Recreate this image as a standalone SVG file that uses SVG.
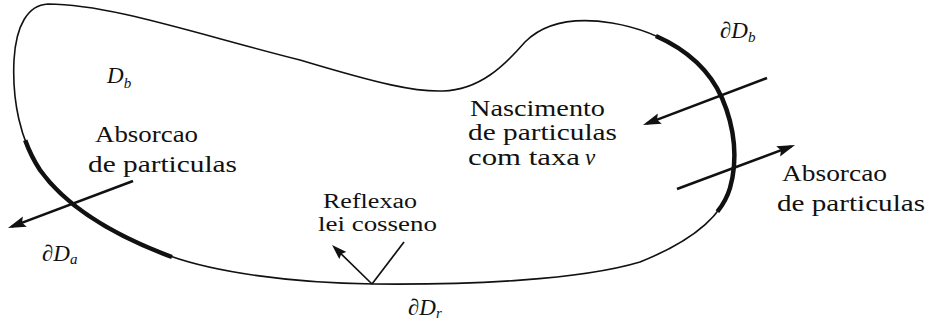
<svg xmlns="http://www.w3.org/2000/svg" width="930" height="327" viewBox="0 0 930 327">
<style>
.t{font-family:"Liberation Serif","Times New Roman",serif;font-size:24px;fill:#111}
.r{font-size:20px}
.m{font-family:"Liberation Serif","Times New Roman",serif;font-style:italic;font-size:23px;fill:#111}
.s{font-size:15px}
.outline{fill:none;stroke:#111;stroke-width:1.6}
.thick{fill:none;stroke:#111;stroke-width:4.5;stroke-linecap:butt}
.arr{fill:none;stroke:#111;stroke-width:2.6}
.thin{fill:none;stroke:#111;stroke-width:1.7}
</style>
<defs>
<marker id="ah" markerUnits="userSpaceOnUse" markerWidth="20" markerHeight="12" refX="14" refY="5.5" orient="auto">
<path d="M0,0 L18,5.5 L0,11 L3,5.5 Z" fill="#111"/>
</marker>
<marker id="ah2" markerUnits="userSpaceOnUse" markerWidth="16" markerHeight="10" refX="11" refY="5" orient="auto">
<path d="M0,0 L15,5 L0,10 L2,5 Z" fill="#111"/>
</marker>
</defs>
<g id="domain">
<path class="outline" d="M 48,4 C 110,4 200,35 300,60 C 380,84 415,92 443,91 C 480,90 505,65 525,42 C 545,22 575,17 612,23 C 665,32 705,60 722,98 C 735,128 738,160 730,188 C 722,215 695,240 640,262 C 580,280 470,285 373,284 C 290,283 215,272 170,256 C 110,234 65,205 40,170 C 20,140 12,100 14,60 C 16,25 28,5 48,4 Z"/>
<text class="m" x="107" y="83">D<tspan class="s" dy="5">b</tspan></text>
</g>
<g id="boundary-a">
<path class="thick" d="M 25.2,140.3 C 29.1,151.1 34,161 40,170 C 65,205 110,234 172,257"/>
<text class="m" x="42" y="261">∂D<tspan class="s" dy="3">a</tspan></text>
</g>
<g id="boundary-b">
<path class="thick" d="M 655.9,36 C 686.9,49.7 710.1,71.4 722,98 C 735,128 738,160 730,188 C 727.6,196.1 723.5,204 717.4,211.7"/>
<text class="m" x="720" y="38">∂D<tspan class="s" dy="4">b</tspan></text>
</g>
<g id="boundary-r">
<text class="m" x="408" y="315">∂D<tspan class="s" dy="3">r</tspan></text>
</g>
<g id="absorcao-left">
<text class="t" x="95" y="142" textLength="103" lengthAdjust="spacingAndGlyphs">Absorcao</text>
<text class="t" x="88" y="172" textLength="149" lengthAdjust="spacingAndGlyphs">de particulas</text>
</g>
<g id="nascimento">
<text class="t" x="470" y="116" textLength="135" lengthAdjust="spacingAndGlyphs">Nascimento</text>
<text class="t" x="468" y="140" textLength="149" lengthAdjust="spacingAndGlyphs">de particulas</text>
<text class="t" x="468" y="165" textLength="112" lengthAdjust="spacingAndGlyphs">com taxa</text>
<text class="m" x="585" y="165">ν</text>
</g>
<g id="absorcao-right">
<text class="t" x="782" y="181" textLength="105" lengthAdjust="spacingAndGlyphs">Absorcao</text>
<text class="t" x="777" y="211" textLength="148" lengthAdjust="spacingAndGlyphs">de particulas</text>
</g>
<g id="reflexao">
<text class="t r" x="323" y="208" textLength="94" lengthAdjust="spacingAndGlyphs">Reflexao</text>
<text class="t r" x="318" y="231" textLength="119" lengthAdjust="spacingAndGlyphs">lei cosseno</text>
</g>
<g id="connectors">
<line class="arr" x1="133" y1="181" x2="11.7" y2="226.6" marker-end="url(#ah)"/>
<line class="arr" x1="767" y1="78" x2="646.7" y2="123.6" marker-end="url(#ah)"/>
<line class="arr" x1="677" y1="189" x2="791.3" y2="146.4" marker-end="url(#ah)"/>
<line class="thin" x1="404" y1="242" x2="372" y2="284"/>
<line class="thin" x1="372" y1="284" x2="334.9" y2="247.8" marker-end="url(#ah2)"/>
</g>
</svg>
